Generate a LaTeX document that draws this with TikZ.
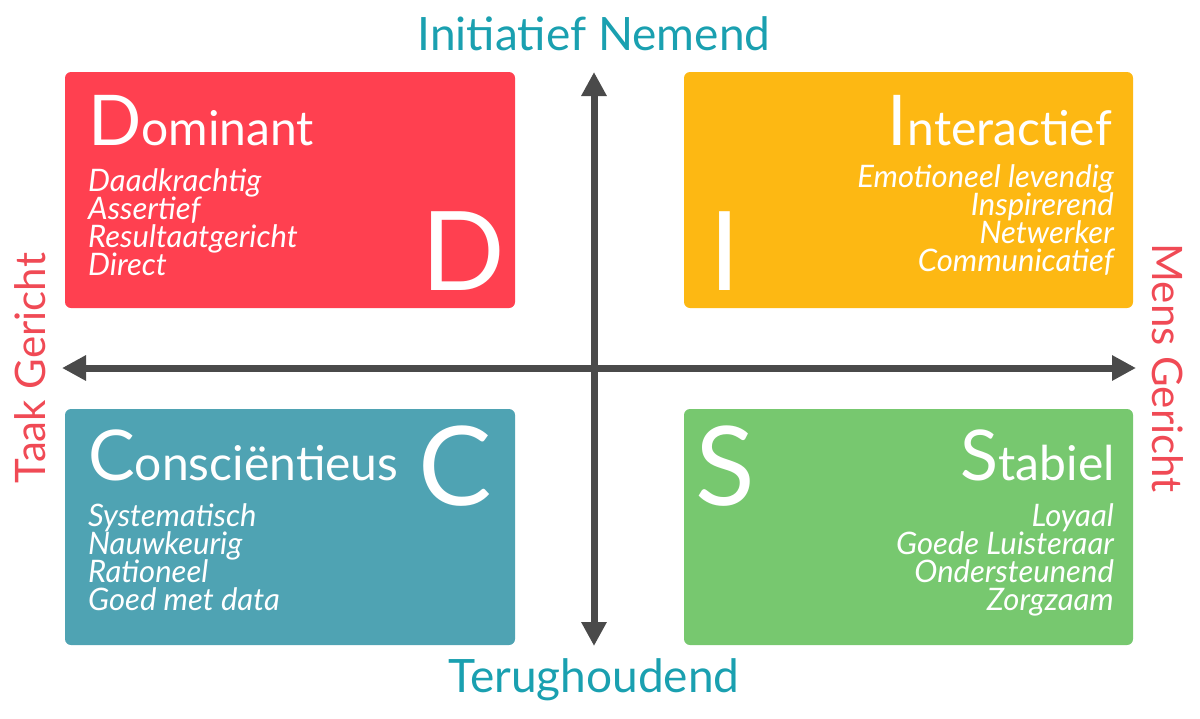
\documentclass[tikz,border=0pt]{standalone}
\usepackage{fontspec}
\setmainfont{Lato}
\usetikzlibrary{arrows.meta}
\definecolor{domred}{HTML}{FF4050}
\definecolor{intyellow}{HTML}{FDB813}
\definecolor{conblue}{HTML}{4FA3B3}
\definecolor{stagreen}{HTML}{77C86F}
\definecolor{axisgray}{HTML}{4A4A4A}
\definecolor{titleteal}{HTML}{1AA0B0}
\definecolor{sidered}{HTML}{F04A55}
\tikzset{
  quadrant/.style={rounded corners=6pt, draw=none},
  bigletter/.style={white, font=\fontsize{110}{110}\selectfont, inner sep=0pt},
  headline/.style={white, font=\fontsize{48}{48}\selectfont, inner sep=0pt},
  traits/.style={white, font=\fontsize{31}{31}\itshape, inner sep=0pt},
  axistitle/.style={titleteal, font=\fontsize{46}{46}\selectfont, inner sep=0pt},
  sidetitle/.style={sidered, font=\fontsize{42}{42}\selectfont, inner sep=0pt},
  axisline/.style={axisgray, line width=7pt, {Triangle[length=24pt,width=24pt]}-{Triangle[length=24pt,width=24pt]}}
}
\newcommand{\initial}[2]{{\fontsize{70}{70}\selectfont #1}#2}
\begin{document}
\begin{tikzpicture}[x=1pt,y=-1pt]
	\useasboundingbox (0,0) rectangle (1200,718);

	% quadrants
	\fill[quadrant,domred]    (65,72)  rectangle (515,308);
	\fill[quadrant,intyellow] (684,72) rectangle (1133,308);
	\fill[quadrant,conblue]   (65,409) rectangle (515,645);
	\fill[quadrant,stagreen]  (684,409) rectangle (1133,645);

	% axes
	\coordinate (top) at (594,72);
	\coordinate (bottom) at (594,646);
	\coordinate (left) at (62,368);
	\coordinate (right) at (1136,368);
	\draw[axisline] (bottom) -- (top);
	\draw[axisline] (left) -- (right);

	% axis titles
	\node[axistitle] (nemend) at (594,34) {Initiatief Nemend};
	\node[axistitle] (terug) at (594,680) {Terughoudend};
	\node[sidetitle,rotate=90] (taak) at (30,368) {Taak Gericht};
	\node[sidetitle,rotate=-90] (mens) at (1168,368) {Mens Gericht};

	% D
	\node[headline,anchor=base west] (dhead) at (88,145) {\initial{D}{ominant}};
	\node[traits,anchor=north west,align=left] (dlist) at (88,168)
		{Daadkrachtig\\[-3pt]Assertief\\[-3pt]Resultaatgericht\\[-3pt]Direct};
	\node[bigletter,anchor=base] (dbig) at (463,290) {D};

	% I
	\node[headline,anchor=base east] (ihead) at (1112,145) {\initial{I}{nteractief}};
	\node[traits,anchor=north east,align=right] (ilist) at (1114,164)
		{Emotioneel levendig\\[-3pt]Inspirerend\\[-3pt]Netwerker\\[-3pt]Communicatief};
	\node[bigletter,anchor=base] (ibig) at (725,290) {I};

	% C
	\node[headline,anchor=base west] (chead) at (88,480) {\initial{C}{onsciëntieus}};
	\node[traits,anchor=north west,align=left] (clist) at (88,503)
		{Systematisch\\[-3pt]Nauwkeurig\\[-3pt]Rationeel\\[-3pt]Goed met data};
	\node[bigletter,anchor=base] (cbig) at (455,505) {C};

	% S
	\node[headline,anchor=base east] (shead) at (1115,480) {\initial{S}{tabiel}};
	\node[traits,anchor=north east,align=right] (slist) at (1114,503)
		{Loyaal\\[-3pt]Goede Luisteraar\\[-3pt]Ondersteunend\\[-3pt]Zorgzaam};
	\node[bigletter,anchor=base] (sbig) at (725,505) {S};
\end{tikzpicture}
\end{document}
